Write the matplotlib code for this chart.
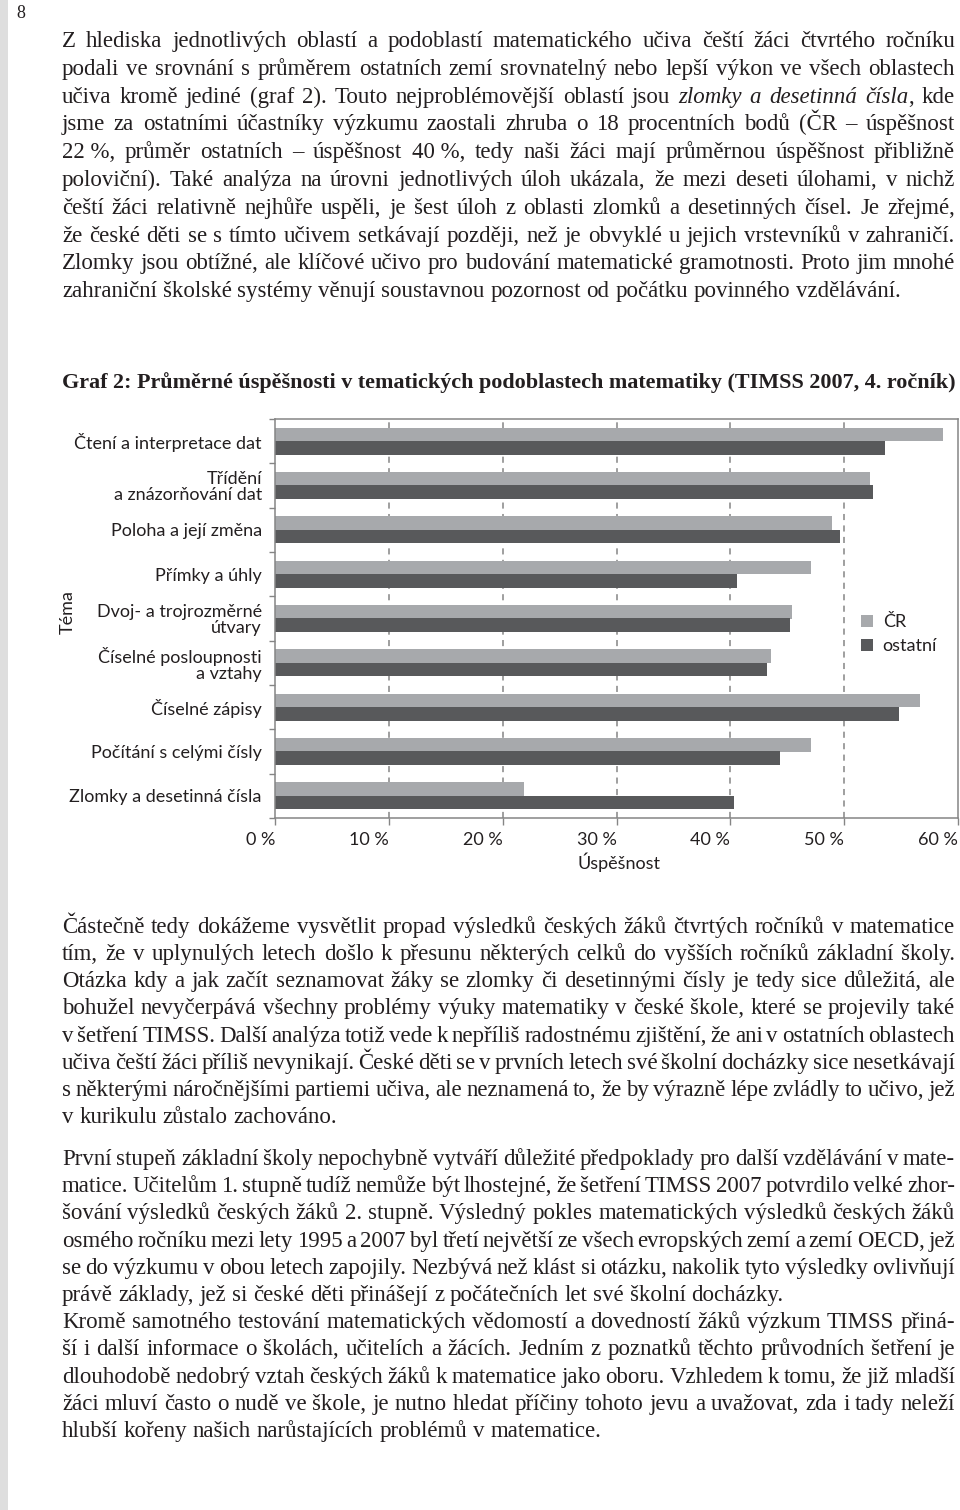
import numpy as np
import matplotlib.pyplot as plt
from matplotlib.patches import Patch, Rectangle

W, H, DPI = 960, 1510, 100

# --- chart data (TIMSS 2007, 4th grade) ---
topics = ["Čtení a interpretace dat", "Třídění\na znázorňování dat", "Poloha a její změna",
          "Přímky a úhly", "Dvoj- a trojrozměrné\nútvary", "Číselné posloupnosti\na vztahy",
          "Číselné zápisy", "Počítání s celými čísly", "Zlomky a desetinná čísla"]
cr = [58.7, 52.3, 48.9, 47.1, 45.4, 43.6, 56.7, 47.1, 21.9]
ostatni = [53.6, 52.5, 49.6, 40.6, 45.2, 43.2, 54.8, 44.4, 40.3]
series_names = ["ČR", "ostatní"]
x_ticks = [0, 10, 20, 30, 40, 50, 60]

title = "Graf 2: Průměrné úspěšnosti v tematických podoblastech matematiky (TIMSS 2007, 4. ročník)"
page_no = "8"

# --- page text, line by line as typeset ('*' toggles italics) ---
para1 = [
    "Z hlediska jednotlivých oblastí a podoblastí matematického učiva čeští žáci čtvrtého ročníku",
    "podali ve srovnání s průměrem ostatních zemí srovnatelný nebo lepší výkon ve všech oblastech",
    "učiva kromě jediné (graf 2). Touto nejproblémovější oblastí jsou *zlomky a desetinná čísla*, kde",
    "jsme za ostatními účastníky výzkumu zaostali zhruba o 18 procentních bodů (ČR – úspěšnost",
    "22\u00a0%, průměr ostatních – úspěšnost 40\u00a0%, tedy naši žáci mají průměrnou úspěšnost přibližně",
    "poloviční). Také analýza na úrovni jednotlivých úloh ukázala, že mezi deseti úlohami, v nichž",
    "čeští žáci relativně nejhůře uspěli, je šest úloh z oblasti zlomků a desetinných čísel. Je zřejmé,",
    "že české děti se s tímto učivem setkávají později, než je obvyklé u jejich vrstevníků v zahraničí.",
    "Zlomky jsou obtížné, ale klíčové učivo pro budování matematické gramotnosti. Proto jim mnohé",
    "zahraniční školské systémy věnují soustavnou pozornost od počátku povinného vzdělávání.",
]
para2 = [
    "Částečně tedy dokážeme vysvětlit propad výsledků českých žáků čtvrtých ročníků v matematice",
    "tím, že v uplynulých letech došlo k přesunu některých celků do vyšších ročníků základní školy.",
    "Otázka kdy a jak začít seznamovat žáky se zlomky či desetinnými čísly je tedy sice důležitá, ale",
    "bohužel nevyčerpává všechny problémy výuky matematiky v české škole, které se projevily také",
    "v šetření TIMSS. Další analýza totiž vede k nepříliš radostnému zjištění, že ani v ostatních oblastech",
    "učiva čeští žáci příliš nevynikají. České děti se v prvních letech své školní docházky sice nesetkávají",
    "s některými náročnějšími partiemi učiva, ale neznamená to, že by výrazně lépe zvládly to učivo, jež",
    "v kurikulu zůstalo zachováno.",
]
para3 = [
    "První stupeň základní školy nepochybně vytváří důležité předpoklady pro další vzdělávání v mate-",
    "matice. Učitelům 1. stupně tudíž nemůže být lhostejné, že šetření TIMSS 2007 potvrdilo velké zhor-",
    "šování výsledků českých žáků 2. stupně. Výsledný pokles matematických výsledků českých žáků",
    "osmého ročníku mezi lety 1995 a 2007 byl třetí největší ze všech evropských zemí a zemí OECD, jež",
    "se do výzkumu v obou letech zapojily. Nezbývá než klást si otázku, nakolik tyto výsledky ovlivňují",
    "právě základy, jež si české děti přinášejí z počátečních let své školní docházky.",
]
para4 = [
    "Kromě samotného testování matematických vědomostí a dovedností žáků výzkum TIMSS přiná-",
    "ší i další informace o školách, učitelích a žácích. Jedním z poznatků těchto průvodních šetření je",
    "dlouhodobě nedobrý vztah českých žáků k matematice jako oboru. Vzhledem k tomu, že již mladší",
    "žáci mluví často o nudě ve škole, je nutno hledat příčiny tohoto jevu a uvažovat, zda i tady neleží",
    "hlubší kořeny našich narůstajících problémů v matematice.",
]

SERIF = ["Liberation Serif", "DejaVu Serif"]
SANS = ["Lato", "DejaVu Sans"]
TXT = "#231f20"
C_CR = "#a7a9ac"
C_OST = "#58595b"
FRAME = "#858585"
X0, X1 = 62, 955

plt.rcParams['font.family'] = SANS

fig = plt.figure(figsize=(W / DPI, H / DPI), dpi=DPI)
renderer = fig.canvas.get_renderer()


def fy(y):
    return 1 - y / H


def text_width(s, size, style='normal', weight='normal'):
    t = fig.text(0, 0, s, fontsize=size, family=SERIF, style=style, weight=weight)
    w = t.get_window_extent(renderer).width
    t.remove()
    return w


def split_runs(line):
    '''split a line into words, each a list of (text, italic) runs'''
    words = []
    italic = False
    for w in line.split(' '):
        runs = []
        for i, p in enumerate(w.split('*')):
            if i > 0:
                italic = not italic
            if p:
                runs.append((p, italic))
        words.append(runs)
    return words


def draw_line(line, y, size, justify):
    words = split_runs(line)
    while True:
        widths = [[text_width(s, size, 'italic' if it else 'normal') for s, it in runs]
                  for runs in words]
        total = sum(sum(w) for w in widths)
        space = text_width('a a', size) - text_width('aa', size)
        gap = space
        if justify and len(words) > 1:
            gap = (X1 - X0 - total) / (len(words) - 1)
            if gap < 0.6 * space:
                size *= 0.985
                continue
        break
    x = X0
    for runs, ws in zip(words, widths):
        for (s, it), w in zip(runs, ws):
            fig.text(x / W, fy(y), s, fontsize=size, family=SERIF, color=TXT,
                     style='italic' if it else 'normal', ha='left', va='baseline')
            x += w
        x += gap


def draw_paragraph(lines, y0, step, size=16.5):
    for i, line in enumerate(lines):
        draw_line(line, y0 + i * step, size, justify=(i < len(lines) - 1))


# page edge and number
fig.patches.append(Rectangle((0, 0), 8 / W, 1, transform=fig.transFigure,
                             facecolor="#dedede", edgecolor='none'))
fig.text(21 / W, fy(18), page_no, fontsize=13, family=SERIF, color=TXT,
         ha='center', va='baseline')

draw_paragraph(para1, 47, 27.8)
draw_paragraph(para2, 933, 27.15)
draw_paragraph(para3, 1165, 27.2)
draw_paragraph(para4, 1165 + 6 * 27.2, 27.2)

# title, fitted to the text width
tw = text_width(title, 15, weight='bold')
fig.text(X0 / W, fy(388), title, fontsize=15 * (X1 - X0) / tw, family=SERIF,
         weight='bold', color=TXT, ha='left', va='baseline')

# --- chart ---
ax = fig.add_axes([275 / W, fy(818), (958 - 275) / W, (818 - 419) / H])
y = np.arange(len(topics))
bh = 0.305
ax.barh(y - 0.152, cr, height=bh, color=C_CR, zorder=2)
ax.barh(y + 0.152, ostatni, height=bh, color=C_OST, zorder=2)
for t in x_ticks[1:-1]:
    ax.axvline(t, color=FRAME, lw=1.1, ls=(0, (4, 3.5)), zorder=1)

lab = 13
ax.set_xlim(x_ticks[0], x_ticks[-1])
ax.set_ylim(len(topics) - 0.5, -0.5)
ax.set_xticks(x_ticks)
ax.set_xticklabels([f"{t} %" for t in x_ticks], ha='right')
ax.set_yticks(y)
ax.set_yticklabels(topics)
for t in ax.get_yticklabels():
    t.set_linespacing(1.0)
ax.set_yticks(np.arange(len(topics) + 1) - 0.5, minor=True)
ax.tick_params(axis='y', which='major', length=0, pad=9.5, labelsize=lab, labelcolor=TXT)
ax.tick_params(axis='y', which='minor', length=4, width=1, color=FRAME)
ax.tick_params(axis='x', length=5, width=1, color=FRAME, pad=5, labelsize=lab, labelcolor=TXT)
for sp in ax.spines.values():
    sp.set_color(FRAME)
    sp.set_linewidth(1.1)

fig.text(619 / W, fy(862), "Úspěšnost", fontsize=lab, color=TXT, ha='center', va='center')
fig.text(68 / W, fy(612), "Téma", fontsize=lab, color=TXT, ha='center', va='center',
         rotation=90)

handles = [Patch(facecolor=C_CR, edgecolor='none'), Patch(facecolor=C_OST, edgecolor='none')]
ax.legend(handles, series_names, loc='upper left', bbox_to_anchor=(861 / W, fy(614)),
          bbox_transform=fig.transFigure, frameon=False, fontsize=lab,
          handlelength=0.65, handleheight=0.65, handletextpad=0.55, labelspacing=0.45,
          borderpad=0, borderaxespad=0, labelcolor=TXT)

fig.savefig("out.png", dpi=DPI, facecolor='white')
